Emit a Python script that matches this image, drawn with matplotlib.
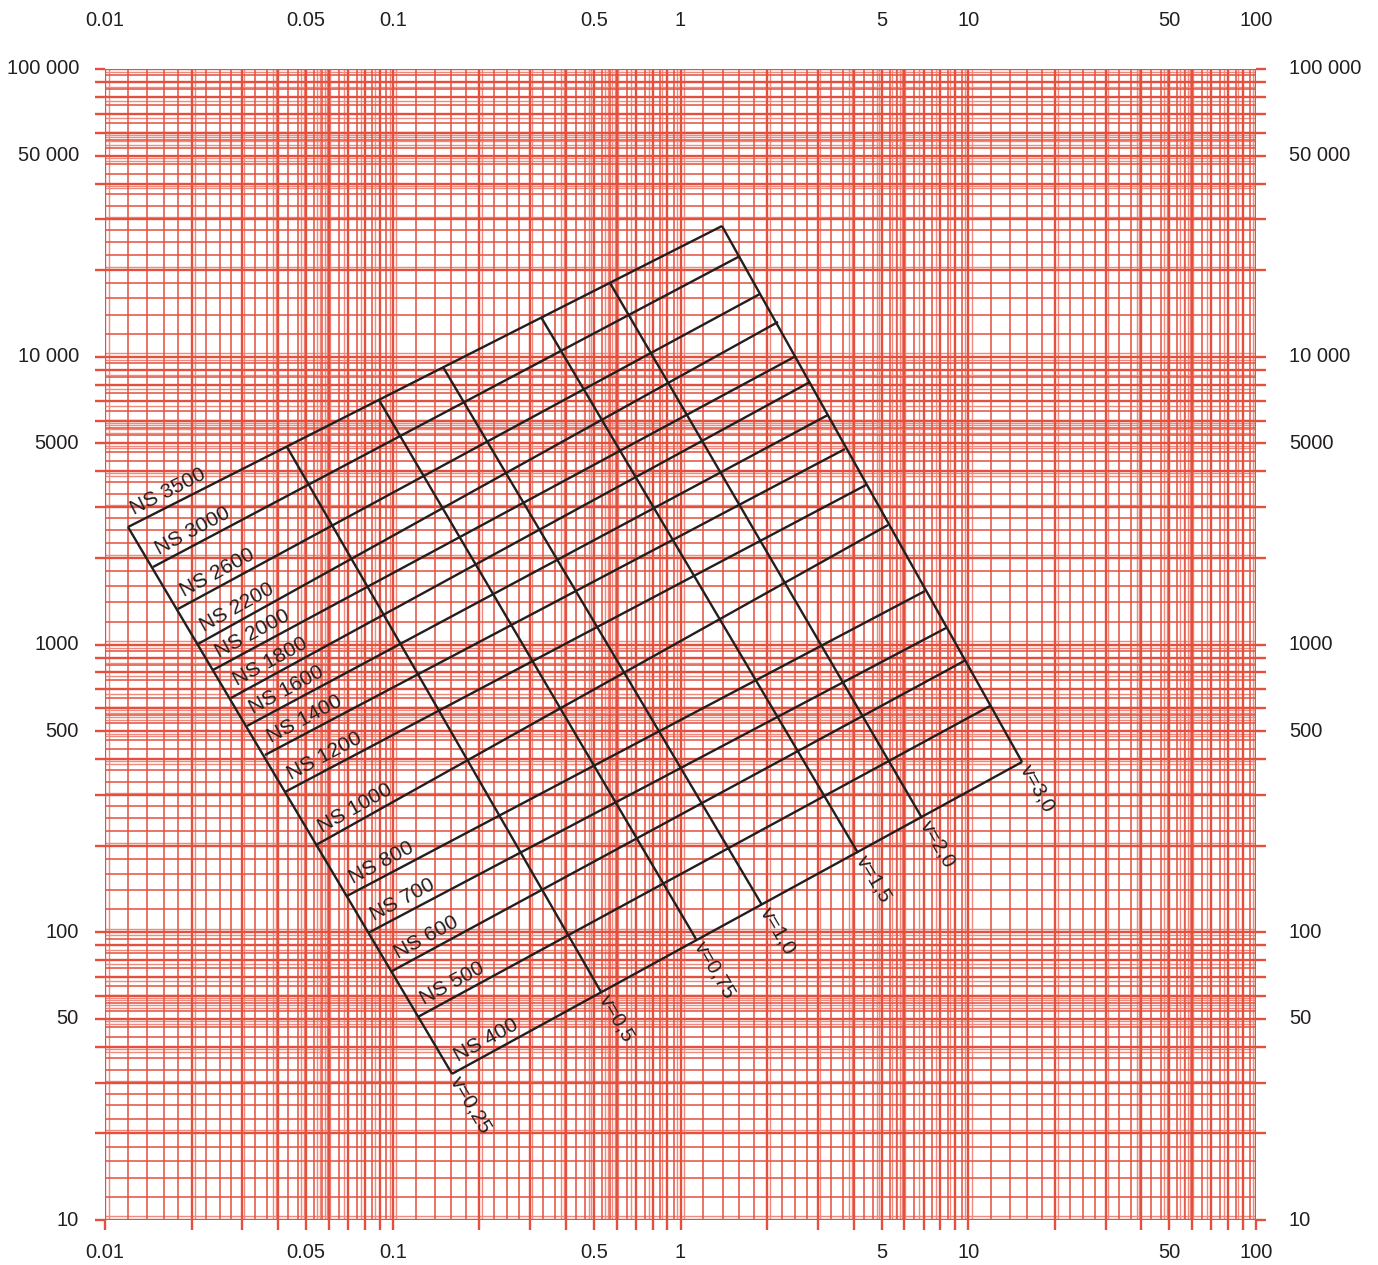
import numpy as np
import matplotlib
matplotlib.use("Agg")
import matplotlib.pyplot as plt
from matplotlib.ticker import NullLocator

plt.rcParams['font.family'] = ['Liberation Sans', 'DejaVu Sans']

# ---------------- data ----------------
x_ticks = [0.01, 0.05, 0.1, 0.5, 1, 5, 10, 50, 100]
x_labels = ['0.01', '0.05', '0.1', '0.5', '1', '5', '10', '50', '100']
y_ticks = [10, 50, 100, 500, 1000, 5000, 10000, 50000, 100000]
y_labels = ['10', '50', '100', '500', '1000', '5000', '10 000', '50 000', '100 000']

ns_names = ['NS 3500', 'NS 3000', 'NS 2600', 'NS 2200', 'NS 2000', 'NS 1800',
            'NS 1600', 'NS 1400', 'NS 1200', 'NS 1000', 'NS 800', 'NS 700',
            'NS 600', 'NS 500', 'NS 400']
# end on v=0,25 line
ns_left_x = [0.01202, 0.01468, 0.01794, 0.02104, 0.02372, 0.02741, 0.03115,
             0.03597, 0.04221, 0.05411, 0.06934, 0.08204, 0.09940, 0.1224, 0.1607]
ns_left_y = [2560, 1859, 1329, 1004, 815.5, 651.9, 521.1, 413.0, 307.3, 201.0,
             133.7, 99.4, 73.3, 50.8, 32.2]
# end on v=3,0 line
ns_right_x = [1.394, 1.610, 1.889, 2.182, 2.520, 2.818, 3.254, 3.729, 4.413,
              5.262, 7.074, 8.368, 9.822, 11.90, 15.38]
ns_right_y = [28470, 22390, 16530, 13210, 10060, 8170, 6276, 4779, 3584, 2602,
              1534, 1141, 883.5, 611.3, 390.6]

v_names = ['v=0,25', 'v=0,5', 'v=0,75', 'v=1,0', 'v=1,5', 'v=2,0', 'v=3,0']
# end on NS 3500 line
v_top_x = [0.01202, 0.04290, 0.08957, 0.1495, 0.3275, 0.5689, 1.394]
v_top_y = [2560, 4859, 7074, 9213, 13740, 18040, 28470]
# end on NS 400 line
v_bot_x = [0.1607, 0.5294, 1.132, 1.919, 4.139, 6.907, 15.38]
v_bot_y = [32.2, 61.99, 94.7, 124.4, 188.6, 249.5, 390.6]

# log-paper rulings (mantissas within one decade)
major_m = [1, 2, 3, 4, 5, 6, 7, 8, 9]
minor_m = [1.2, 1.4, 1.6, 1.8, 2.25, 2.5, 2.75, 3.33, 3.67, 4.33, 4.67,
           5.33, 5.67, 6.5, 7.5, 8.5, 9.5]
light_m = [1.03, 2.05, 3.05, 3.85, 3.93, 4.8, 4.9, 5.45, 5.6, 5.8, 5.9,
           6.05, 6.75, 7.75, 8.65, 9.75]

RED = '#e4503d'
LIGHT = '#ee8a7e'
BLACK = '#231f20'
TXT = '#231f20'

# ---------------- figure ----------------
W, H = 1378, 1265
fig = plt.figure(figsize=(W / 100, H / 100), dpi=100)
L, R, T, B = 105, 1256, 69, 1220
ax = fig.add_axes([L / W, 1 - B / H, (R - L) / W, (B - T) / H])
ax.set_xscale('log')
ax.set_yscale('log')
ax.set_xlim(0.01, 100)
ax.set_ylim(10, 100000)
for s in ax.spines.values():
    s.set_visible(False)


def decade_positions(mants, k0, k1):
    out = []
    for k in range(k0, k1):
        for m in mants:
            out.append(m * 10.0 ** k)
    return out


xmaj = decade_positions(major_m, -2, 2) + [100]
ymaj = decade_positions(major_m, 1, 5) + [100000]
xmin_ = decade_positions(minor_m, -2, 2)
ymin_ = decade_positions(minor_m, 1, 5)
xlt = decade_positions(light_m, -2, 2)
ylt = decade_positions(light_m, 1, 5)

ax.vlines(xlt, 10, 100000, colors=LIGHT, lw=1.0, zorder=1)
ax.hlines(ylt, 0.01, 100, colors=LIGHT, lw=1.0, zorder=1)
ax.vlines(xmin_, 10, 100000, colors=RED, lw=1.1, zorder=2)
ax.hlines(ymin_, 0.01, 100, colors=RED, lw=1.1, zorder=2)
ax.vlines(xmaj, 10, 100000, colors=RED, lw=1.7, zorder=3)
ax.hlines(ymaj, 0.01, 100, colors=RED, lw=1.7, zorder=3)

# outward tick marks at the main rulings
ax.set_xticks(xmaj, labels=[''] * len(xmaj))
ax.set_yticks(ymaj, labels=[''] * len(ymaj))
ax.xaxis.set_minor_locator(NullLocator())
ax.yaxis.set_minor_locator(NullLocator())
ax.tick_params(axis='x', which='major', direction='out', length=7, width=1.7,
               color=RED, bottom=True, top=False)
ax.tick_params(axis='y', which='major', direction='out', length=7, width=1.7,
               color=RED, left=True, right=True)

# tick labels
fs = 14.5
xt = ax.get_xaxis_transform()
yt = ax.get_yaxis_transform()
for v, s in zip(x_ticks, x_labels):
    ax.text(v, 1 + 49 / (B - T), s, transform=xt, ha='center', va='center',
            fontsize=fs, color=TXT, clip_on=False)
    ax.text(v, -32 / (B - T), s, transform=xt, ha='center', va='center',
            fontsize=fs, color=TXT, clip_on=False)
for v, s in zip(y_ticks, y_labels):
    ax.text(-26 / (R - L), v, s, transform=yt, ha='right', va='center',
            fontsize=fs, color=TXT, clip_on=False)
    ax.text(1 + 33 / (R - L), v, s, transform=yt, ha='left', va='center',
            fontsize=fs, color=TXT, clip_on=False)

# ---------------- nomogram ----------------
for x0, y0, x1, y1 in zip(ns_left_x, ns_left_y, ns_right_x, ns_right_y):
    ax.plot([x0, x1], [y0, y1], color=BLACK, lw=1.7, zorder=5,
            solid_capstyle='butt')
for x0, y0, x1, y1 in zip(v_top_x, v_top_y, v_bot_x, v_bot_y):
    ax.plot([x0, x1], [y0, y1], color=BLACK, lw=1.7, zorder=5,
            solid_capstyle='butt')


def disp(x, y):
    return ax.transData.transform((x, y))


for name, x0, y0, x1, y1 in zip(ns_names, ns_left_x, ns_left_y, ns_right_x, ns_right_y):
    p0, p1 = disp(x0, y0), disp(x1, y1)
    d = p1 - p0
    ang = np.arctan2(d[1], d[0])
    u = np.array([np.cos(ang), np.sin(ang)])
    n = np.array([-np.sin(ang), np.cos(ang)])
    off = 11 * u + 8 * n
    ax.annotate(name, xy=(x0, y0), xytext=(off[0], off[1]),
                textcoords='offset pixels', rotation=np.degrees(ang),
                rotation_mode='anchor', ha='left', va='baseline',
                fontsize=15, color=TXT, zorder=6)

for name, x0, y0, x1, y1 in zip(v_names, v_top_x, v_top_y, v_bot_x, v_bot_y):
    p0, p1 = disp(x0, y0), disp(x1, y1)
    d = p1 - p0
    ang = np.arctan2(d[1], d[0])
    u = np.array([np.cos(ang), np.sin(ang)])
    off = 5 * u
    ax.annotate(name, xy=(x1, y1), xytext=(off[0], off[1]),
                textcoords='offset pixels', rotation=np.degrees(ang),
                rotation_mode='anchor', ha='left', va='center',
                fontsize=15, color=TXT, zorder=6)

fig.savefig('out.png', dpi=100, facecolor='white')
